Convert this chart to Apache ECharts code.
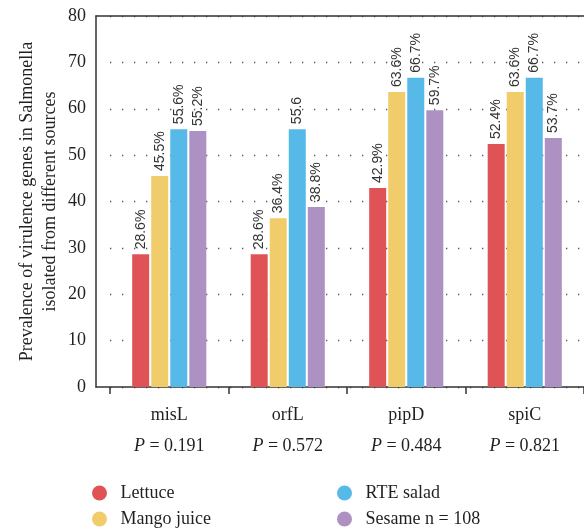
<!DOCTYPE html>
<html>
<head>
<meta charset="utf-8">
<script src="https://cdn.jsdelivr.net/npm/echarts@6/dist/echarts.min.js"></script>
<style>html,body{margin:0;padding:0;background:#fff}#c{width:584px;height:528px}</style>
</head>
<body>
<div id="c"></div>
<script>
const categories = ['misL', 'orfL', 'pipD', 'spiC'];
const pValues = ['0.191', '0.572', '0.484', '0.821'];
const seriesNames = ['Lettuce', 'Mango juice', 'RTE salad', 'Sesame n = 108'];
const lettuce = [28.6, 28.6, 42.9, 52.4];
const mangoJuice = [45.5, 36.4, 63.6, 63.6];
const rteSalad = [55.6, 55.6, 66.7, 66.7];
const sesame = [55.2, 38.8, 59.7, 53.7];
const lettuceLabels = ['28.6%', '28.6%', '42.9%', '52.4%'];
const mangoLabels = ['45.5%', '36.4%', '63.6%', '63.6%'];
const rteLabels = ['55.6%', '55.6', '66.7%', '66.7%'];
const sesameLabels = ['55.2%', '38.8%', '59.7%', '53.7%'];
const yTicks = { min: 0, max: 80, interval: 10 };

const colors = ['#DF5357', '#F0CC6A', '#57B9E8', '#AD91C3'];
const serif = 'Liberation Serif';
const txt = '#231f20';
const values = [lettuce, mangoJuice, rteSalad, sesame];
const labels = [lettuceLabels, mangoLabels, rteLabels, sesameLabels];
const legendPos = [[87, 479], [87, 505], [332, 479], [332, 505]];

const chart = echarts.init(document.getElementById('c'));
chart.setOption({
  animation: false,
  color: colors,
  grid: [
    { left: 96, right: 0, top: 16, bottom: 141 },
    { left: 110, right: 0, top: 16, bottom: 141 }
  ],
  xAxis: [
    { type: 'value', gridIndex: 0, min: 0, max: 1, axisLine: { show: true, lineStyle: { color: '#333', width: 1.5 } }, axisTick: { show: false }, axisLabel: { show: false }, splitLine: { show: false } },
    { type: 'value', gridIndex: 0, position: 'top', min: 0, max: 1, axisLine: { show: true, lineStyle: { color: '#333', width: 1.5 } }, axisTick: { show: false }, axisLabel: { show: false }, splitLine: { show: false } },
    {
      type: 'category', gridIndex: 1, data: categories,
      axisLine: { show: false },
      axisTick: { show: true, length: 7, lineStyle: { color: '#333', width: 1.5 } },
      axisLabel: {
        margin: 13,
        formatter: (v, i) => '{c|' + v + '}\n{p|P}{c| = ' + pValues[i] + '}',
        rich: {
          c: { fontFamily: serif, fontSize: 18, color: txt, lineHeight: 31 },
          p: { fontFamily: serif, fontSize: 18, color: txt, lineHeight: 31, fontStyle: 'italic' }
        }
      }
    }
  ],
  yAxis: [
    {
      type: 'value', gridIndex: 0, min: yTicks.min, max: yTicks.max, interval: yTicks.interval,
      axisLine: { show: true, lineStyle: { color: '#333', width: 1.5 } },
      axisTick: { show: false },
      axisLabel: { margin: 10, fontFamily: serif, fontSize: 18, color: txt },
      splitLine: { show: false },
      name: 'Prevalence of virulence genes in Salmonella\nisolated from different sources',
      nameLocation: 'middle', nameRotate: 90, nameGap: 34, nameMoveOverlap: false,
      nameTextStyle: { fontFamily: serif, fontSize: 18, color: txt, lineHeight: 23 }
    },
    {
      type: 'value', gridIndex: 1, min: yTicks.min, max: yTicks.max, interval: yTicks.interval,
      axisLine: { show: false }, axisTick: { show: false }, axisLabel: { show: false },
      splitLine: { show: true, lineStyle: { color: '#555', width: 1.3, type: [1.3, 10.7] } }
    }
  ],
  legend: seriesNames.map((name, i) => ({
    data: [name], left: legendPos[i][0], top: legendPos[i][1],
    icon: 'circle', itemWidth: 32, itemHeight: 15,
    textStyle: { fontFamily: serif, fontSize: 18, color: txt, lineHeight: 15 }
  })),
  series: seriesNames.map((name, s) => ({
    name: name, type: 'bar', xAxisIndex: 2, yAxisIndex: 1,
    data: values[s], barWidth: 17, barGap: '12%',
    label: {
      show: true, position: 'top', distance: 5, rotate: 90, align: 'left', verticalAlign: 'middle',
      fontFamily: 'Liberation Sans', fontSize: 14, color: '#333',
      formatter: (p) => labels[s][p.dataIndex]
    }
  }))
});
</script>
</body>
</html>
